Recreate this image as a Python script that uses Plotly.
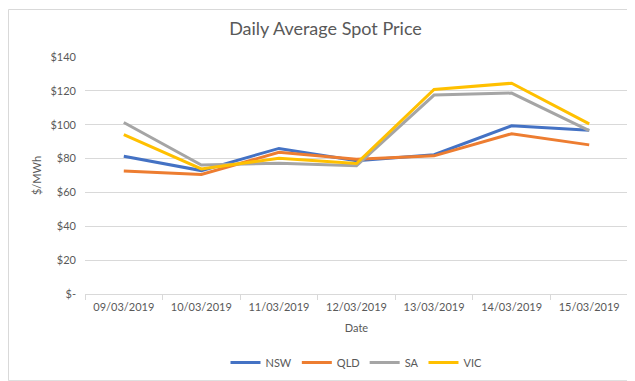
import plotly.graph_objects as go

dates = ["09/03/2019", "10/03/2019", "11/03/2019", "12/03/2019", "13/03/2019", "14/03/2019", "15/03/2019"]
nsw = [81.4, 72.9, 86.0, 78.7, 82.3, 99.4, 96.8]
qld = [72.7, 70.6, 83.7, 79.6, 81.6, 94.7, 88.1]
sa = [101.3, 76.2, 77.3, 75.8, 117.5, 118.7, 96.5]
vic = [94.1, 73.9, 80.2, 77.1, 120.8, 124.5, 100.5]
ytick_vals = [0, 20, 40, 60, 80, 100, 120, 140]
ytick_text = ["$-", "$20", "$40", "$60", "$80", "$100", "$120", "$140"]

series = [("NSW", nsw, "#4472C4"), ("QLD", qld, "#ED7D31"), ("SA", sa, "#A5A5A5"), ("VIC", vic, "#FFC000")]

fig = go.Figure()
for name, vals, col in series:
    fig.add_trace(go.Scatter(x=dates, y=vals, name=name, mode="lines",
                             line=dict(color=col, width=3)))

W, H = 635, 381
L, R, T, B = 77, 15, 49, 90
pw, ph = W - L - R, H - T - B

fig.update_layout(
    width=W, height=H,
    margin=dict(l=L, r=R, t=T, b=B),
    paper_bgcolor="white", plot_bgcolor="white",
    font=dict(family="Lato, Liberation Sans, sans-serif", size=11, color="#595959"),
    title=dict(text="Daily Average Spot Price", x=0.5, xanchor="center", y=1 - 21 / H, yanchor="middle",
               font=dict(size=18, color="#595959")),
    showlegend=True,
    legend=dict(orientation="h", x=0.5, xanchor="center", y=-(361 - (H - B)) / ph, yanchor="middle",
                font=dict(size=11, color="#595959"), itemwidth=30, tracegroupgap=0),
    xaxis=dict(type="category", showgrid=False, showline=True, linecolor="#d9d9d9", linewidth=1,
               ticks="outside", tickson="boundaries", ticklen=5, tickcolor="#d9d9d9",
               ticklabelstandoff=3,
               title=dict(text="Date", standoff=12, font=dict(size=11, color="#595959")),
               range=[-0.5, 6.5]),
    yaxis=dict(range=[0, 140], tickvals=ytick_vals, ticktext=ytick_text, showgrid=True,
               gridcolor="#d9d9d9", gridwidth=1, zeroline=False, showline=False,
               ticklabelstandoff=8,
               title=dict(text="$/MWh", standoff=6, font=dict(size=11, color="#595959"))),
    shapes=[dict(type="rect", xref="paper", yref="paper",
                 x0=-(L - 0.5) / pw, x1=(W - L - 1.5) / pw,
                 y0=-(B - 1.5) / ph, y1=1 + (T - 0.5) / ph,
                 line=dict(color="#d9d9d9", width=1), fillcolor="rgba(0,0,0,0)", layer="below")],
)

fig.write_html("out.html")
